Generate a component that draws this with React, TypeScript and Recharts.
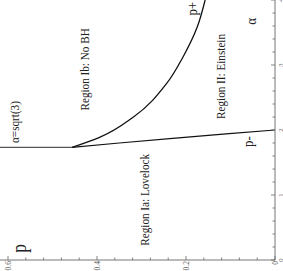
import { LineChart, Line, XAxis, YAxis, ReferenceDot } from "recharts";

// α axis ticks (minor every 0.2, labels on integers)
const alphaTicks = [0, 0.2, 0.4, 0.6, 0.8, 1, 1.2, 1.4, 1.6, 1.8, 2, 2.2, 2.4, 2.6, 2.8, 3, 3.2, 3.4, 3.6, 3.8, 4];
const alphaMajor = [0, 1, 2, 3, 4];

// p axis ticks (minor every 0.04)
const pTicks = [0, 0.04, 0.08, 0.12, 0.16, 0.2, 0.24, 0.28, 0.32, 0.36, 0.4, 0.44, 0.48, 0.52, 0.56, 0.6];
const pMajor = [0, 0.2, 0.4, 0.6];

// vertical boundary α = sqrt(3)
const sqrt3Line = [
  { a: 1.732, p: 0.456 },
  { a: 1.732, p: 0.618 },
];

// lower branch p-
const pMinus = [
  { a: 1.732, p: 0.456 },
  { a: 1.8, p: 0.35 },
  { a: 1.87, p: 0.23 },
  { a: 1.94, p: 0.11 },
  { a: 2.0, p: 0 },
];

// upper branch p+
const pPlus = [
  { a: 1.732, p: 0.456 },
  { a: 1.89, p: 0.393 },
  { a: 2.2, p: 0.318 },
  { a: 2.72, p: 0.243 },
  { a: 3.12, p: 0.207 },
  { a: 3.58, p: 0.175 },
  { a: 4.0, p: 0.157 },
];

const FONT = "'Liberation Serif', 'DejaVu Serif', serif";

const AlphaTick = ({ x, y, payload }: any) => {
  const major = alphaMajor.includes(payload.value);
  return (
    <g>
      <line x1={x} x2={x} y1={y} y2={y - (major ? 4 : 2.5)} stroke="#666" strokeWidth={0.8} />
      {major && (
        <text x={x} y={y + 7.5} fontSize={6.5} textAnchor="middle" fill="#555" fontFamily={FONT}>
          {payload.value}
        </text>
      )}
    </g>
  );
};

const PTick = ({ x, y, payload }: any) => {
  const major = pMajor.includes(payload.value);
  return (
    <g>
      <line x1={x} x2={x + (major ? 4 : 2.5)} y1={y} y2={y} stroke="#666" strokeWidth={0.8} />
      {major && (
        <text x={x - 1} y={y + 2.5} fontSize={7.5} textAnchor="end" fill="#555" fontFamily={FONT}>
          {payload.value}
        </text>
      )}
    </g>
  );
};

// condensed serif text, like the original Times rendering
const label = (text: string, size: number) => (props: any) => (
  <text
    transform={`translate(${props.cx},${props.cy}) scale(0.86,1)`}
    fontSize={size}
    fill="#222"
    fontFamily={FONT}
  >
    {text}
  </text>
);

export default function App() {
  return (
    <div style={{ position: "fixed", left: 0, top: 0, width: 283, height: 271, overflow: "hidden", background: "#fff" }}>
      <div style={{ width: 271, height: 283, transformOrigin: "0 0", transform: "translateY(271px) rotate(-90deg)" }}>
        <LineChart width={271} height={283} margin={{ top: 0, right: 0, bottom: 0, left: 0 }}>
          <XAxis
            type="number"
            dataKey="a"
            domain={[0, 4]}
            ticks={alphaTicks}
            interval={0}
            tick={<AlphaTick />}
            tickSize={0}
            tickMargin={0}
            tickLine={false}
            axisLine={{ stroke: "#666", strokeWidth: 0.9 }}
            height={8}
            allowDataOverflow
          />
          <YAxis
            type="number"
            dataKey="p"
            domain={[0, 0.618]}
            ticks={pTicks}
            interval={0}
            tick={<PTick />}
            tickSize={0}
            tickMargin={0}
            tickLine={false}
            axisLine={{ stroke: "#666", strokeWidth: 0.9 }}
            width={11}
            allowDataOverflow
          />
          <Line data={sqrt3Line} dataKey="p" type="linear" dot={false} stroke="#555" strokeWidth={1.2} isAnimationActive={false} />
          <Line data={pMinus} dataKey="p" type="linear" dot={false} stroke="#111" strokeWidth={1.2} isAnimationActive={false} />
          <Line data={pPlus} dataKey="p" type="monotone" dot={false} stroke="#111" strokeWidth={1.3} isAnimationActive={false} />

          <ReferenceDot x={0.11} y={0.56} shape={label("p", 20)} />
          <ReferenceDot x={1.8} y={0.576} shape={label("α=sqrt(3)", 13)} />
          <ReferenceDot x={2.3} y={0.418} shape={label("Region Ib: No BH", 13)} />
          <ReferenceDot x={0.22} y={0.283} shape={label("Region Ia: Lovelock", 13)} />
          <ReferenceDot x={2.17} y={0.113} shape={label("Region II: Einstein", 13)} />
          <ReferenceDot x={3.76} y={0.176} shape={label("p+", 15)} />
          <ReferenceDot x={1.74} y={0.05} shape={label("p-", 15)} />
          <ReferenceDot x={3.62} y={0.042} shape={label("α", 15)} />
        </LineChart>
      </div>
    </div>
  );
}
